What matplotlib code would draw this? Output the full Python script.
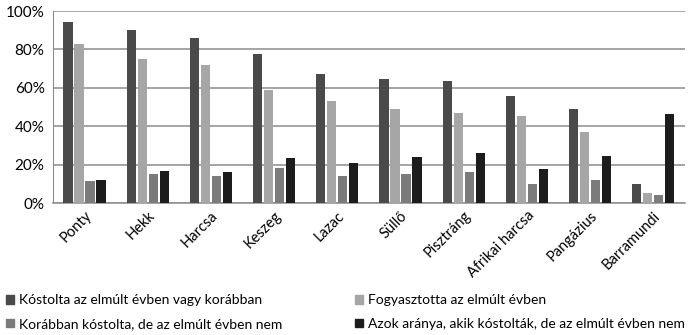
import matplotlib
matplotlib.use('Agg')
import matplotlib.pyplot as plt
import matplotlib.patches as mpatches
import numpy as np

plt.rcParams['font.family'] = ['Lato', 'DejaVu Sans']

# Data (share of respondents, %)
categories = ['Ponty', 'Hekk', 'Harcsa', 'Keszeg', 'Lazac', 'Süllő', 'Pisztráng',
              'Afrikai harcsa', 'Pangázius', 'Barramundi']
tasted_ever = [94.3, 89.9, 85.9, 77.4, 67.3, 64.4, 63.5, 55.5, 49.2, 9.9]
consumed_last_year = [82.6, 74.8, 71.8, 59.0, 52.9, 48.9, 46.8, 45.4, 36.9, 5.1]
tasted_before_not_last = [11.5, 15.0, 13.9, 18.1, 14.1, 15.3, 16.2, 9.9, 12.2, 4.4]
share_not_last_year = [12.2, 16.7, 16.2, 23.5, 21.1, 23.8, 25.8, 17.7, 24.7, 46.4]

series_labels = ['Kóstolta az elmúlt évben vagy korábban',
                 'Fogyasztotta az elmúlt évben',
                 'Korábban kóstolta, de az elmúlt évben nem',
                 'Azok aránya, akik kóstolták, de az elmúlt évben nem']
series_values = [tasted_ever, consumed_last_year, tasted_before_not_last, share_not_last_year]
series_colors = ['#4a4a4a', '#a6a6a6', '#7b7b7b', '#1c1c1c']

fig = plt.figure(figsize=(6.96, 3.35), dpi=100)
ax = fig.add_axes([0.076, 0.394, 0.908, 0.573])

x = np.arange(len(categories))
width = 0.145
offsets = [-0.262, -0.087, 0.087, 0.262]
for vals, off, col in zip(series_values, offsets, series_colors):
    ax.bar(x + off, np.array(vals) / 100.0, width, color=col, zorder=3)

ax.set_xlim(-0.5, len(categories) - 0.5)
ax.set_ylim(0, 1.0)
ax.set_yticks(np.arange(0, 1.01, 0.2))
ax.set_yticklabels(['%d%%' % v for v in range(0, 101, 20)], fontsize=11)
ax.yaxis.grid(True, color='#8c8c8c', linewidth=1.1, zorder=0)
ax.set_axisbelow(True)

ax.set_xticks(x)
ax.set_xticklabels(categories, rotation=45, ha='right', rotation_mode='anchor', fontsize=10.5)
ax.tick_params(axis='both', length=0)
ax.tick_params(axis='y', pad=6)
ax.tick_params(axis='x', pad=4)

for s in ['top', 'right']:
    ax.spines[s].set_visible(False)
ax.spines['left'].set_color('#8c8c8c')
ax.spines['bottom'].set_color('#8c8c8c')
ax.spines['bottom'].set_linewidth(1.1)

handles = [mpatches.Patch(color=c) for c in series_colors]
leg_kw = dict(frameon=False, fontsize=10, handlelength=0.6, handleheight=0.6,
              handletextpad=0.35, labelspacing=0.85, borderaxespad=0, borderpad=0)
leg1 = fig.legend([handles[0], handles[2]], [series_labels[0], series_labels[2]],
                  loc='upper left', bbox_to_anchor=(0.008, 0.122), **leg_kw)
leg2 = fig.legend([handles[1], handles[3]], [series_labels[1], series_labels[3]],
                  loc='upper left', bbox_to_anchor=(0.510, 0.122), **leg_kw)

fig.savefig('out.png', dpi=100)
